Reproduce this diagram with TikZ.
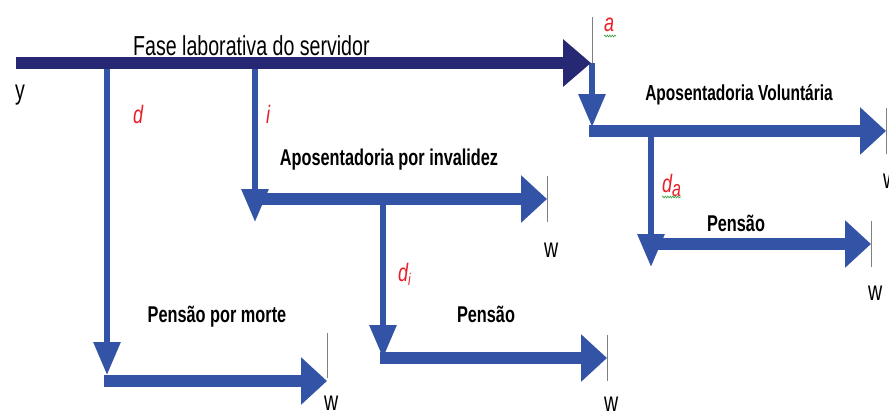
\documentclass[tikz,border=0pt]{standalone}
\usepackage{fontspec}
\setmainfont{Liberation Sans}
\usetikzlibrary{arrows.meta,decorations.pathmorphing}
\definecolor{marinho}{RGB}{38,40,115}
\definecolor{azul}{RGB}{51,84,166}
\definecolor{vermelho}{RGB}{232,30,40}
\definecolor{verde}{RGB}{60,160,70}
\newcommand{\alto}[1]{\scalebox{1}[1.4]{#1}}

\begin{document}
\begin{tikzpicture}[x=1pt, y=-1pt,
			barra/.style={line width=12pt, draw=azul, -{Triangle[length=26pt,width=46pt]}},
			haste/.style={line width=6pt, draw=azul, -{Triangle[length=33pt,width=26pt]}},
			marca/.style={draw=gray, line width=1pt},
			onda/.style={draw=verde, line width=0.6pt, decorate,
				decoration={snake, amplitude=0.9pt, segment length=2.5pt}},
			fase/.style={font=\fontsize{19.6}{22}\selectfont, inner sep=0pt, anchor=base west},
			titulo/.style={font=\bfseries\fontsize{16.3}{18}\selectfont, inner sep=0pt, anchor=base},
			taxa/.style={font=\itshape\fontsize{18}{20}\selectfont, text=vermelho, inner sep=0pt, anchor=base west}]
			\useasboundingbox (0,0) rectangle (889,415);
			\coordinate (ini) at (16,63);
			\coordinate (fim) at (591,63);
			\coordinate (d0) at (107,63);   \coordinate (d1) at (107,375);
			\coordinate (i0) at (255,63);   \coordinate (i1) at (255,222);
			\coordinate (a0) at (592,63);   \coordinate (a1) at (592,127);
			\coordinate (di0) at (383,199); \coordinate (di1) at (383,358);
			\coordinate (da0) at (651,131); \coordinate (da1) at (651,267);
			\coordinate (d2) at (104,381);  \coordinate (d3) at (327,381);
			\coordinate (i2) at (252,199);  \coordinate (i3) at (547,199);
			\coordinate (a2) at (589,131);  \coordinate (a3) at (886,131);
			\coordinate (di2) at (380,358); \coordinate (di3) at (607,358);
			\coordinate (da2) at (648,244); \coordinate (da3) at (871,244);
			\foreach \de/\ate in {d0/d1,i0/i1,a0/a1,di0/di1,da0/da1}
				\draw[haste] (\de) -- (\ate);
			\foreach \de/\ate in {d2/d3,i2/i3,a2/a3,di2/di3,da2/da3}
				\draw[barra] (\de) -- (\ate);
			\draw[barra, draw=marinho, -{Triangle[length=28pt,width=46pt]}] (ini) -- (fim);
			\foreach \p in {a3,i3,di3,da3}
				\draw[marca] ([yshift=23pt]\p) -- ([yshift=-23pt]\p);
			\draw[marca] ([xshift=1pt,yshift=46pt]fim) -- ([xshift=1pt]fim);
			\draw[marca] ([yshift=48pt]d3) -- ([yshift=3pt]d3);
			\foreach \p/\dy in {a3/-57pt,i3/-58pt,da3/-56pt,d3/-29pt,di3/-53pt}
				\node[fase] (w-\p) at ([xshift=-3pt,yshift=\dy]\p) {\alto{w}};
			\node[fase] (fase) at (133,55) {\alto{Fase laborativa do servidor}};
			\node[fase] (y) at (15,99) {\alto{y}};
			\node[taxa] (td) at (133,123) {\alto{d}};
			\node[taxa] (ti) at (266,123) {\alto{i}};
			\node[taxa] (ta) at (604,31) {\alto{a}};
			\node[taxa] (tda) at (662,192) {\alto{d\raisebox{-3pt}{\fontsize{16}{16}\selectfont a}}};
			\node[taxa] (tdi) at (398,281) {\alto{d\raisebox{-3pt}{\fontsize{12}{12}\selectfont i}}};
			\draw[onda] ([yshift=-5pt]ta.base west) -- ++(12,0);
			\draw[onda] ([yshift=-5pt]tda.base west) -- ++(19,0);
			\node[titulo, font=\bfseries\fontsize{15.5}{18}\selectfont] (vol) at (739,100) {\alto{Aposentadoria Voluntária}};
			\node[titulo] (inv) at (389,165) {\alto{Aposentadoria por invalidez}};
			\node[titulo] (morte) at (217,322) {\alto{Pensão por morte}};
			\node[titulo] (pi) at (486,322) {\alto{Pensão}};
			\node[titulo] (pa) at (736,231) {\alto{Pensão}};
		\end{tikzpicture}
\end{document}
